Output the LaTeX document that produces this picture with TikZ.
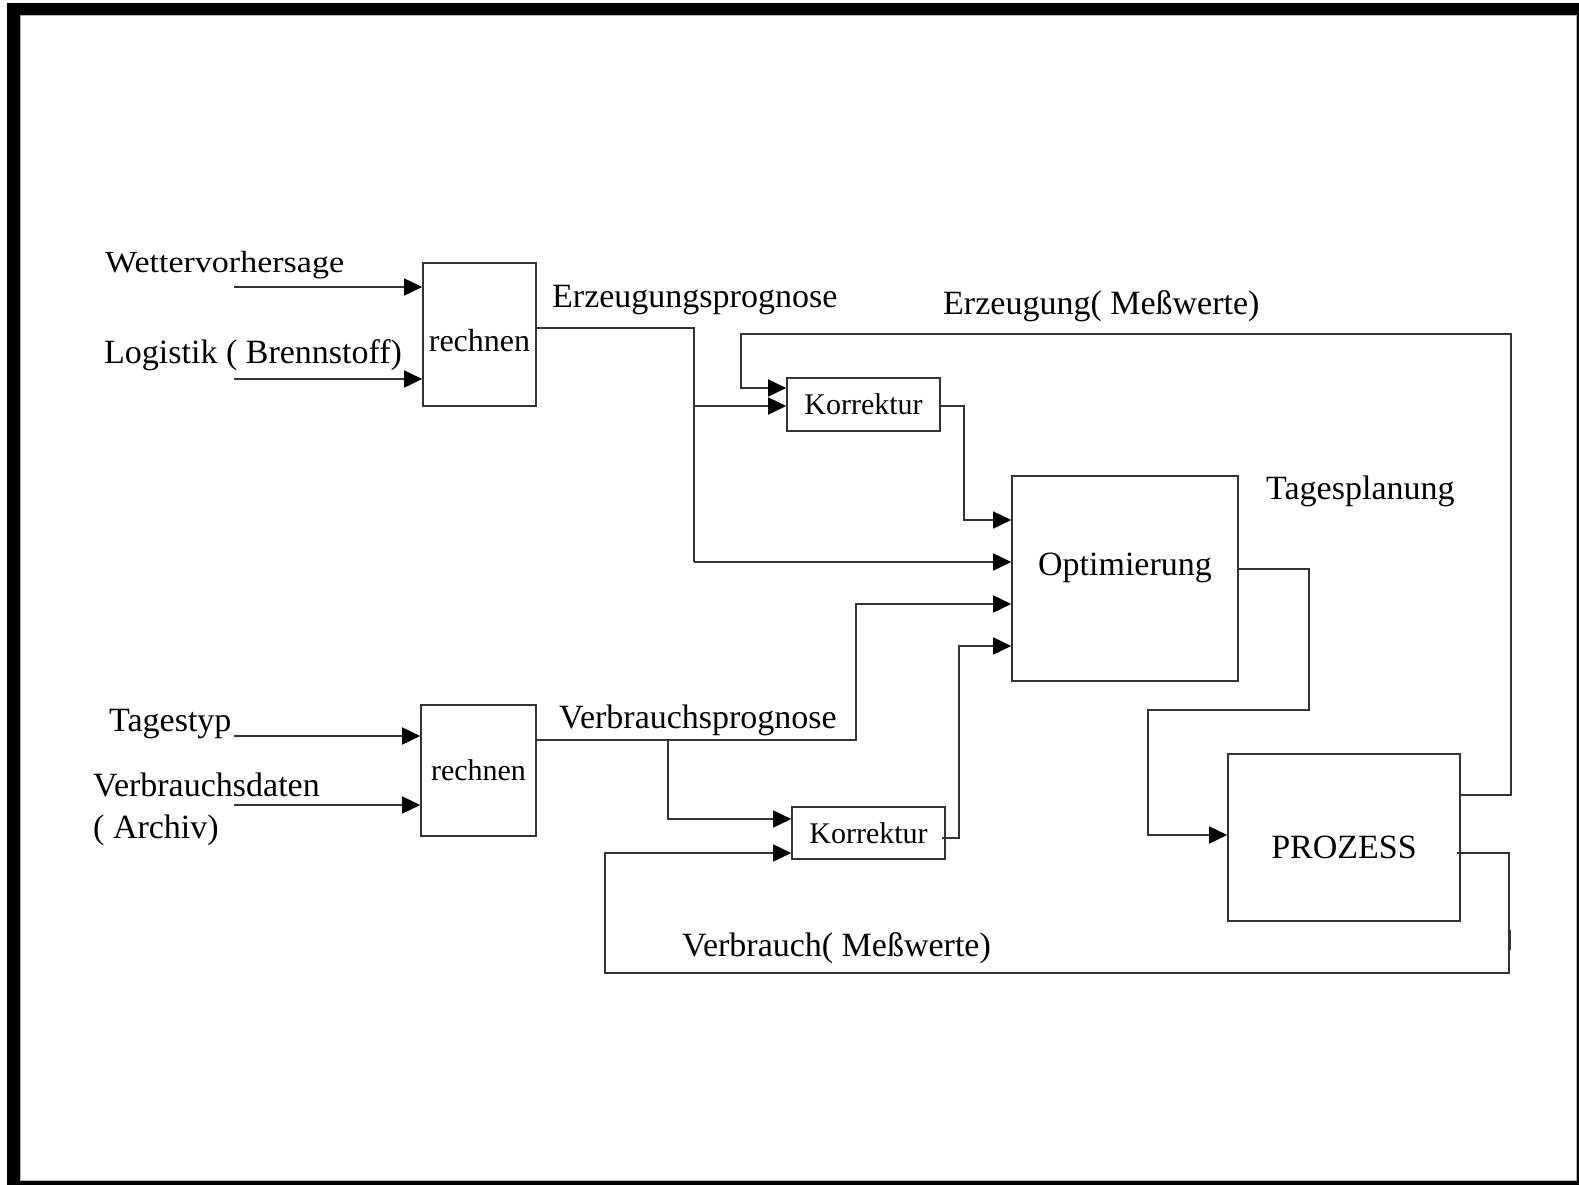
\documentclass[tikz,border=0pt]{standalone}
\usepackage{fontspec}
\setmainfont{Liberation Serif}
\usetikzlibrary{arrows.meta}
\colorlet{line color}{black!80}
\colorlet{frame edge}{black}
\def\labels{{(105,272)/wetterL/\scalebox{1}[0.9]{Wettervorhersage}}, {(104,363)/logistikL/Logistik ( Brennstoff)}, {(552,307)/prognoseAL/Erzeugungsprognose}, {(943,314)/messAL/Erzeugung( Meßwerte)}, {(1266,499)/planungL/Tagesplanung}, {(109,731)/tagestypL/Tagestyp}, {(93,796)/datenL/Verbrauchsdaten}, {(93,838)/archivL/( Archiv)}, {(559,728)/prognoseBL/Verbrauchsprognose}, {(682,956)/messBL/Verbrauch( Meßwerte)}}
\def\inputs{{287/wetter/rechnenA}, {379/logistik/rechnenA}, {736/tagestyp/rechnenB}, {805/daten/rechnenB}}
\tikzset{
  block/.style={draw=line color, line width=1.6pt, inner sep=0pt},
  plain/.style={draw=line color, line width=1.6pt},
  flow/.style={plain, -{Triangle[length=18pt,width=17pt,color=black]}}
  }
\tikzstyle{label text}=[inner sep=0pt, anchor=base west, font=\fontsize{34}{40}\selectfont]
\tikzstyle{big text}=[font=\fontsize{34}{40}\selectfont]

\begin{document}
\begin{tikzpicture}[x=1pt,y=-1pt]
  \useasboundingbox (0,0) rectangle (1579,1185);

  % The frame round the page
  \fill[frame edge] (7,3) rectangle (1579,1185);
  \fill[white] (20,15) rectangle (1577,1181);
  \draw[gray!60, line width=1pt] (20.5,15.5) rectangle (1576.5,1180.5);

  % The blocks
  \node[block, minimum width=113pt, minimum height=143pt, font=\fontsize{32}{38}\selectfont, text height=34pt, text depth=0pt] (rechnenA) at (479.5,334.5) {rechnen};
  \node[block, minimum width=115pt, minimum height=131pt, font=\fontsize{30}{36}\selectfont] (rechnenB) at (478.5,770.5) {rechnen};
  \node[block, minimum width=153pt, minimum height=53pt, font=\fontsize{30}{36}\selectfont] (korrA) at (863.5,404.5) {Korrektur};
  \node[block, minimum width=153pt, minimum height=52pt, font=\fontsize{30}{36}\selectfont] (korrB) at (868.5,833) {Korrektur};
  \node[block, big text, minimum width=226pt, minimum height=205pt, text height=23pt, text depth=30pt] (opt) at (1125,578.5) {Optimierung};
  \node[block, big text, minimum width=232pt, minimum height=167pt, text height=41pt, text depth=0pt] (proz) at (1344,837.5) {PROZESS};

  % The texts beside the lines
  \foreach \pos/\name/\text in \labels
    \node[label text] (\name) at \pos {\text};

  % The inputs on the left
  \foreach \y/\name/\blk in \inputs {
    \coordinate (\name) at (234,\y);
    \draw[flow] (\name) -- (\name -| \blk.west);
  }

  % The corners of the lines
  \coordinate (e1) at (694,328);
  \coordinate (e2) at (694,406);
  \coordinate (e3) at (694,562);
  \coordinate (k1) at (964,406);
  \coordinate (k2) at (964,520);
  \coordinate (p1) at (1511,795);
  \coordinate (m1) at (1511,334);
  \coordinate (m2) at (741,334);
  \coordinate (m3) at (741,388);
  \coordinate (o1) at (1309,569);
  \coordinate (o2) at (1309,710);
  \coordinate (o3) at (1148,710);
  \coordinate (o4) at (1148,835);
  \coordinate (v0) at (1457,853);
  \coordinate (v1) at (1509,853);
  \coordinate (v2) at (1509,973);
  \coordinate (v3) at (605,973);
  \coordinate (v4) at (605,853);
  \coordinate (t1) at (1509.5,930);
  \coordinate (t2) at (1509.5,950);
  \coordinate (b1) at (856,740);
  \coordinate (b2) at (856,604);
  \coordinate (s1) at (668,740);
  \coordinate (s2) at (668,819);
  \coordinate (c0) at (942,838);
  \coordinate (c1) at (959,838);
  \coordinate (c2) at (959,646);

  % Erzeugung
  \draw[plain] (rechnenA.east |- e1) -- (e1) -- (e3);
  \draw[flow] (e3) -- (e3 -| opt.west);
  \draw[flow] (e2) -- (e2 -| korrA.west);
  \draw[flow] (k1 -| korrA.east) -- (k1) -- (k2) -- (k2 -| opt.west);
  \draw[flow] (p1 -| proz.east) -- (p1) -- (m1) -- (m2) -- (m3) -- (m3 -| korrA.west);

  % Verbrauch
  \draw[flow] (rechnenB.east |- b1) -- (b1) -- (b2) -- (b2 -| opt.west);
  \draw[flow] (s1) -- (s2) -- (s2 -| korrB.west);
  \draw[flow] (c0) -- (c1) -- (c2) -- (c2 -| opt.west);
  \draw[flow] (v0) -- (v1) -- (v2) -- (v3) -- (v4) -- (v4 -| korrB.west);
  \draw[plain, line width=3.5pt] (t1) -- (t2);

  % Tagesplanung
  \draw[flow] (o1 -| opt.east) -- (o1) -- (o2) -- (o3) -- (o4) -- (o4 -| proz.west);
\end{tikzpicture}
\end{document}
